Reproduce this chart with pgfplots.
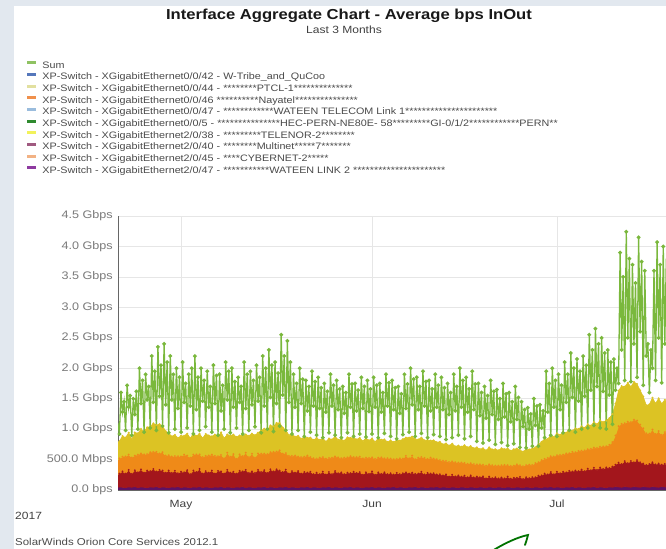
\documentclass[border=0pt]{standalone}
\usepackage{fontspec}
\setmainfont{Liberation Sans}[FakeStretch=1.15]
\usepackage{pgfplots}
\usepackage{pgfplotstable}
\pgfplotsset{compat=1.18}
\definecolor{bgout}{HTML}{E2E8EF}
\definecolor{gridgray}{HTML}{E6E6E6}
\definecolor{axisgray}{HTML}{666666}
\definecolor{tickgray}{HTML}{7A7A7A}
\definecolor{legtext}{HTML}{4A4A4A}
\definecolor{cpurple}{HTML}{5E1263}
\definecolor{cred}{HTML}{A3161C}
\definecolor{credl}{HTML}{C84848}
\definecolor{corange}{HTML}{EF8A18}
\definecolor{corangel}{HTML}{F8C27A}
\definecolor{cyellow}{HTML}{DCC324}
\definecolor{cyellowl}{HTML}{F6EFA8}
\definecolor{cgreen}{HTML}{7AB83C}
\definecolor{cgreend}{HTML}{4C9428}
\definecolor{lsum}{HTML}{8FC262}
\definecolor{lblue}{HTML}{5577BB}
\definecolor{lpaley}{HTML}{E2E0A0}
\definecolor{lorange}{HTML}{F0904C}
\definecolor{llblue}{HTML}{9ABCDD}
\definecolor{ldgreen}{HTML}{2F8A2F}
\definecolor{lyellow}{HTML}{F2F25A}
\definecolor{lmauve}{HTML}{A05A80}
\definecolor{llorange}{HTML}{F2B284}
\definecolor{lpurple}{HTML}{8E3AA0}

\pgfplotstableread[row sep=\\]{
x p r o yl \\
-10.5 0.04 0.20 0.22 0.30 \\
-10.0 0.05 0.22 0.25 0.28 \\
-9.5 0.045 0.26 0.24 0.34 \\
-9.0 0.04 0.23 0.28 0.31 \\
-8.5 0.05 0.28 0.25 0.36 \\
-8.0 0.045 0.22 0.27 0.30 \\
-7.5 0.055 0.27 0.24 0.38 \\
-7.0 0.04 0.25 0.29 0.35 \\
-6.5 0.05 0.29 0.26 0.40 \\
-6.0 0.045 0.24 0.30 0.37 \\
-5.5 0.04 0.28 0.27 0.44 \\
-5.0 0.05 0.26 0.31 0.42 \\
-4.5 0.045 0.30 0.28 0.47 \\
-4.0 0.055 0.25 0.32 0.44 \\
-3.5 0.04 0.29 0.27 0.48 \\
-3.0 0.05 0.27 0.30 0.43 \\
-2.5 0.045 0.24 0.28 0.40 \\
-2.0 0.04 0.28 0.25 0.36 \\
-1.5 0.05 0.23 0.27 0.33 \\
-1.0 0.045 0.27 0.24 0.35 \\
-0.5 0.055 0.22 0.28 0.30 \\
0.0 0.04 0.26 0.25 0.34 \\
0.5 0.05 0.24 0.29 0.31 \\
1.0 0.045 0.28 0.24 0.36 \\
1.5 0.04 0.22 0.27 0.32 \\
2.0 0.05 0.27 0.26 0.35 \\
2.5 0.045 0.25 0.29 0.30 \\
3.0 0.055 0.29 0.24 0.34 \\
3.5 0.04 0.23 0.27 0.31 \\
4.0 0.05 0.26 0.25 0.36 \\
4.5 0.045 0.24 0.28 0.33 \\
5.0 0.04 0.28 0.26 0.30 \\
5.5 0.05 0.22 0.29 0.35 \\
6.0 0.045 0.27 0.24 0.32 \\
6.5 0.055 0.25 0.27 0.37 \\
7.0 0.04 0.23 0.25 0.33 \\
7.5 0.05 0.28 0.28 0.30 \\
8.0 0.045 0.24 0.26 0.35 \\
8.5 0.04 0.26 0.29 0.32 \\
9.0 0.05 0.22 0.24 0.36 \\
9.5 0.045 0.27 0.27 0.31 \\
10.0 0.055 0.25 0.25 0.34 \\
10.5 0.04 0.29 0.28 0.30 \\
11.0 0.05 0.23 0.26 0.35 \\
11.5 0.045 0.26 0.29 0.33 \\
12.0 0.04 0.24 0.25 0.37 \\
12.5 0.05 0.28 0.27 0.34 \\
13.0 0.045 0.25 0.30 0.38 \\
13.5 0.055 0.27 0.27 0.41 \\
14.0 0.04 0.24 0.31 0.39 \\
14.5 0.05 0.29 0.28 0.44 \\
15.0 0.045 0.26 0.32 0.42 \\
15.5 0.04 0.30 0.29 0.47 \\
16.0 0.05 0.27 0.33 0.45 \\
16.5 0.045 0.25 0.30 0.43 \\
17.0 0.055 0.28 0.27 0.38 \\
17.5 0.04 0.23 0.29 0.34 \\
18.0 0.05 0.26 0.25 0.36 \\
18.5 0.045 0.24 0.28 0.31 \\
19.0 0.04 0.27 0.24 0.34 \\
19.5 0.05 0.22 0.27 0.30 \\
20.0 0.045 0.25 0.25 0.33 \\
20.5 0.055 0.23 0.28 0.29 \\
21.0 0.04 0.26 0.24 0.32 \\
21.5 0.05 0.21 0.26 0.30 \\
22.0 0.045 0.24 0.23 0.34 \\
22.5 0.04 0.22 0.27 0.29 \\
23.0 0.05 0.25 0.24 0.31 \\
23.5 0.045 0.21 0.26 0.28 \\
24.0 0.055 0.24 0.23 0.32 \\
24.5 0.04 0.22 0.27 0.30 \\
25.0 0.05 0.26 0.24 0.33 \\
25.5 0.045 0.23 0.26 0.29 \\
26.0 0.04 0.25 0.23 0.31 \\
26.5 0.05 0.21 0.27 0.28 \\
27.0 0.045 0.24 0.25 0.33 \\
27.5 0.055 0.22 0.28 0.30 \\
28.0 0.04 0.26 0.24 0.32 \\
28.5 0.05 0.23 0.26 0.29 \\
29.0 0.045 0.25 0.25 0.31 \\
29.5 0.04 0.21 0.27 0.28 \\
30.0 0.05 0.24 0.24 0.32 \\
30.5 0.045 0.22 0.26 0.29 \\
31.0 0.055 0.25 0.23 0.31 \\
31.5 0.04 0.21 0.26 0.28 \\
32.0 0.05 0.24 0.24 0.32 \\
32.5 0.045 0.22 0.27 0.29 \\
33.0 0.04 0.25 0.23 0.31 \\
33.5 0.05 0.21 0.26 0.27 \\
34.0 0.045 0.23 0.24 0.30 \\
34.5 0.055 0.20 0.25 0.28 \\
35.0 0.04 0.24 0.23 0.31 \\
35.5 0.05 0.21 0.26 0.29 \\
36.0 0.045 0.23 0.24 0.32 \\
36.5 0.04 0.25 0.27 0.30 \\
37.0 0.05 0.22 0.25 0.34 \\
37.5 0.045 0.24 0.28 0.31 \\
38.0 0.055 0.21 0.24 0.33 \\
38.5 0.04 0.23 0.26 0.30 \\
39.0 0.05 0.25 0.24 0.32 \\
39.5 0.045 0.21 0.27 0.29 \\
40.0 0.04 0.24 0.23 0.31 \\
40.5 0.05 0.22 0.26 0.28 \\
41.0 0.045 0.23 0.24 0.30 \\
41.5 0.055 0.20 0.25 0.28 \\
42.0 0.04 0.22 0.23 0.30 \\
42.5 0.05 0.19 0.24 0.27 \\
43.0 0.045 0.21 0.22 0.29 \\
43.5 0.04 0.18 0.24 0.27 \\
44.0 0.05 0.20 0.22 0.29 \\
44.5 0.045 0.18 0.23 0.26 \\
45.0 0.04 0.20 0.21 0.28 \\
45.5 0.05 0.17 0.23 0.26 \\
46.0 0.045 0.19 0.21 0.29 \\
46.5 0.04 0.17 0.22 0.27 \\
47.0 0.05 0.19 0.20 0.28 \\
47.5 0.045 0.16 0.22 0.26 \\
48.0 0.04 0.18 0.20 0.28 \\
48.5 0.05 0.16 0.21 0.25 \\
49.0 0.045 0.18 0.19 0.27 \\
49.5 0.04 0.15 0.21 0.25 \\
50.0 0.05 0.17 0.20 0.28 \\
50.5 0.045 0.15 0.21 0.26 \\
51.0 0.04 0.17 0.19 0.27 \\
51.5 0.05 0.14 0.21 0.25 \\
52.0 0.045 0.16 0.20 0.28 \\
52.5 0.04 0.15 0.22 0.26 \\
53.0 0.05 0.17 0.19 0.27 \\
53.5 0.045 0.14 0.21 0.25 \\
54.0 0.04 0.16 0.20 0.27 \\
54.5 0.05 0.15 0.22 0.26 \\
55.0 0.045 0.17 0.19 0.25 \\
55.5 0.04 0.14 0.21 0.24 \\
56.0 0.05 0.16 0.20 0.26 \\
56.5 0.045 0.15 0.22 0.25 \\
57.0 0.04 0.17 0.20 0.27 \\
57.5 0.05 0.16 0.23 0.26 \\
58.0 0.045 0.19 0.22 0.29 \\
58.5 0.04 0.20 0.25 0.30 \\
59.0 0.05 0.22 0.24 0.33 \\
59.5 0.045 0.21 0.27 0.31 \\
60.0 0.055 0.24 0.26 0.35 \\
60.5 0.04 0.22 0.29 0.32 \\
61.0 0.05 0.25 0.27 0.36 \\
61.5 0.045 0.23 0.30 0.33 \\
62.0 0.04 0.26 0.28 0.37 \\
62.5 0.05 0.24 0.31 0.34 \\
63.0 0.045 0.27 0.29 0.38 \\
63.5 0.055 0.25 0.32 0.35 \\
64.0 0.04 0.28 0.30 0.39 \\
64.5 0.05 0.26 0.33 0.36 \\
65.0 0.045 0.29 0.31 0.40 \\
65.5 0.04 0.27 0.34 0.37 \\
66.0 0.05 0.30 0.32 0.41 \\
66.5 0.045 0.28 0.35 0.38 \\
67.0 0.055 0.31 0.33 0.42 \\
67.5 0.04 0.29 0.36 0.39 \\
68.0 0.05 0.32 0.34 0.43 \\
68.5 0.045 0.30 0.37 0.40 \\
69.0 0.04 0.33 0.35 0.42 \\
69.5 0.05 0.31 0.38 0.44 \\
70.0 0.045 0.34 0.40 0.46 \\
70.5 0.055 0.36 0.48 0.52 \\
71.0 0.05 0.40 0.60 0.58 \\
71.5 0.045 0.38 0.66 0.62 \\
72.0 0.055 0.42 0.62 0.60 \\
72.5 0.05 0.39 0.68 0.64 \\
73.0 0.045 0.43 0.64 0.58 \\
73.5 0.055 0.40 0.70 0.62 \\
74.0 0.05 0.44 0.65 0.60 \\
74.5 0.045 0.41 0.62 0.56 \\
75.0 0.055 0.38 0.58 0.52 \\
75.5 0.05 0.36 0.52 0.46 \\
76.0 0.045 0.38 0.50 0.48 \\
76.5 0.055 0.40 0.54 0.52 \\
77.0 0.05 0.37 0.50 0.50 \\
77.5 0.045 0.39 0.53 0.54 \\
78.0 0.055 0.36 0.49 0.51 \\
78.5 0.05 0.38 0.52 0.53 \\
79.0 0.045 0.37 0.50 0.50 \\
}\layers

\begin{document}
\begin{tikzpicture}[x=1bp,y=1bp]
\useasboundingbox (0,0) rectangle (666,549);
\fill[bgout] (0,0) rectangle (666,549);
\fill[white] (14,0) rectangle (666,543);
\node[font=\bfseries\fontsize{14.5}{16}\selectfont, text=black!90] at (349,533) {Interface Aggregate Chart - Average bps InOut};
\node[font=\fontsize{10.5}{12}\selectfont, text=black!75] at (344,519) {Last 3 Months};
\begin{axis}[
  at={(118bp,59bp)}, anchor=south west,
  scale only axis, width=548bp, height=274bp,
  xmin=-10.23, xmax=78.7, ymin=0, ymax=4.5,
  axis x line*=bottom, axis y line*=left,
  axis line style={draw=axisgray, line width=0.9bp},
  xtick={0,31,61}, xticklabels={May,Jun,Jul},
  ytick={0,0.5,1,1.5,2,2.5,3,3.5,4,4.5},
  yticklabels={0.0 bps,500.0 Mbps,1.0 Gbps,1.5 Gbps,2.0 Gbps,2.5 Gbps,3.0 Gbps,3.5 Gbps,4.0 Gbps,4.5 Gbps},
  grid=major, major grid style={draw=gridgray, line width=0.7bp},
  major tick length=0pt,
  yticklabel style={font=\fontsize{11}{12}\selectfont, text=tickgray, inner sep=0pt, xshift=-5bp},
  xticklabel style={font=\fontsize{10.5}{12}\selectfont, text=black!75, inner sep=0pt, yshift=-10bp},
  legend cell align=left,
  legend image code/.code={\draw[#1, line width=3bp] (0bp,3bp) -- (9bp,3bp);},
  legend style={at={(-0.1679,1.5693)}, anchor=north west, draw=none, fill=none,
    inner sep=0pt, outer sep=0pt, row sep=0pt,
    font=\fontsize{9.4}{10}\selectfont, text=legtext,
    nodes={inner sep=0pt, outer sep=0pt, text height=8bp, text depth=3.67bp},
    /tikz/every odd column/.style={column sep=4.5bp}},
]
\addplot[stack plots=y, fill=cpurple, draw=cpurple, line width=0.6bp, forget plot] table[x=x,y=p]{\layers} \closedcycle;
\addplot[stack plots=y, fill=cred, draw=cred, line width=0.6bp, forget plot,
  mark=*, mark size=0.6bp, mark options={fill=credl, draw=none}] table[x=x,y=r]{\layers} \closedcycle;
\addplot[stack plots=y, fill=corange, draw=corange, line width=0.6bp, forget plot,
  mark=*, mark size=0.7bp, mark options={fill=corangel, draw=none}] table[x=x,y=o]{\layers} \closedcycle;
\addplot[stack plots=y, fill=cyellow, draw=cyellow, line width=0.6bp, forget plot,
  mark=*, mark size=0.7bp, mark options={fill=cyellowl, draw=none}] table[x=x,y=yl]{\layers} \closedcycle;
\addplot[draw=cgreen, line width=1.3bp, forget plot, mark=*, mark size=1.2bp,
  mark options={fill=cgreend, draw=none}] coordinates {
(-10.25,1.10)
(-10,0.92)(-9.75,1.60)(-9.5,1.28)(-9.25,1.45)
(-9,0.98)(-8.75,1.72)(-8.5,1.36)(-8.25,1.55)
(-8,0.90)(-7.75,1.50)(-7.5,1.24)(-7.25,1.62)
(-7,1.00)(-6.75,2.00)(-6.5,1.42)(-6.25,1.80)
(-6,0.95)(-5.75,1.90)(-5.5,1.48)(-5.25,1.70)
(-5,1.02)(-4.75,2.20)(-4.5,1.44)(-4.25,1.95)
(-4,0.98)(-3.75,2.35)(-3.5,1.54)(-3.25,2.05)
(-3,1.05)(-2.75,2.40)(-2.5,1.40)(-2.25,2.10)
(-2,0.94)(-1.75,2.20)(-1.5,1.48)(-1.25,1.90)
(-1,1.00)(-0.75,2.00)(-0.5,1.34)(-0.25,1.85)
(0,0.95)(0.25,2.10)(0.5,1.44)(0.75,1.75)
(1,1.02)(1.25,1.90)(1.5,1.38)(1.75,2.00)
(2,0.92)(2.25,2.20)(2.5,1.32)(2.75,1.85)
(3,0.98)(3.25,2.00)(3.5,1.46)(3.75,1.80)
(4,1.04)(4.25,1.95)(4.5,1.36)(4.75,1.70)
(5,0.95)(5.25,2.05)(5.5,1.42)(5.75,1.88)
(6,0.90)(6.25,1.90)(6.5,1.30)(6.75,1.72)
(7,1.00)(7.25,2.10)(7.5,1.48)(7.75,1.95)
(8,0.94)(8.25,2.00)(8.5,1.36)(8.75,1.78)
(9,1.02)(9.25,1.85)(9.5,1.44)(9.75,1.70)
(10,0.92)(10.25,2.10)(10.5,1.34)(10.75,1.90)
(11,0.98)(11.25,1.95)(11.5,1.40)(11.75,1.80)
(12,1.04)(12.25,2.05)(12.5,1.46)(12.75,1.85)
(13,0.94)(13.25,2.20)(13.5,1.38)(13.75,2.00)
(14,1.00)(14.25,2.30)(14.5,1.52)(14.75,2.05)
(15,0.96)(15.25,2.10)(15.5,1.42)(15.75,1.92)
(16,1.05)(16.25,2.55)(16.5,1.56)(16.75,2.20)
(17,0.98)(17.25,2.45)(17.5,1.44)(17.75,2.10)
(18,0.92)(18.25,1.90)(18.5,1.36)(18.75,1.75)
(19,0.98)(19.25,2.00)(19.5,1.42)(19.75,1.82)
(20,0.88)(20.25,1.80)(20.5,1.30)(20.75,1.70)
(21,0.95)(21.25,1.95)(21.5,1.38)(21.75,1.78)
(22,0.90)(22.25,1.85)(22.5,1.34)(22.75,1.68)
(23,0.86)(23.25,1.75)(23.5,1.28)(23.75,1.62)
(24,0.94)(24.25,1.90)(24.5,1.38)(24.75,1.72)
(25,0.90)(25.25,1.80)(25.5,1.32)(25.75,1.66)
(26,0.86)(26.25,1.70)(26.5,1.26)(26.75,1.60)
(27,0.94)(27.25,1.90)(27.5,1.36)(27.75,1.74)
(28,0.88)(28.25,1.75)(28.5,1.30)(28.75,1.64)
(29,0.92)(29.25,1.85)(29.5,1.34)(29.75,1.70)
(30,0.87)(30.25,1.80)(30.5,1.29)(30.75,1.66)
(31,0.92)(31.25,1.85)(31.5,1.36)(31.75,1.72)
(32,0.86)(32.25,1.75)(32.5,1.28)(32.75,1.60)
(33,0.93)(33.25,1.90)(33.5,1.38)(33.75,1.76)
(34,0.88)(34.25,1.80)(34.5,1.32)(34.75,1.68)
(35,0.84)(35.25,1.70)(35.5,1.26)(35.75,1.58)
(36,0.91)(36.25,1.90)(36.5,1.34)(36.75,1.74)
(37,0.95)(37.25,2.00)(37.5,1.40)(37.75,1.82)
(38,0.88)(38.25,1.85)(38.5,1.32)(38.75,1.70)
(39,0.93)(39.25,1.95)(39.5,1.38)(39.75,1.78)
(40,0.86)(40.25,1.80)(40.5,1.30)(40.75,1.66)
(41,0.91)(41.25,1.90)(41.5,1.36)(41.75,1.72)
(42,0.88)(42.25,1.85)(42.5,1.32)(42.75,1.68)
(43,0.83)(43.25,1.75)(43.5,1.24)(43.75,1.60)
(44,0.86)(44.25,1.90)(44.5,1.30)(44.75,1.70)
(45,0.90)(45.25,2.00)(45.5,1.36)(45.75,1.80)
(46,0.84)(46.25,1.85)(46.5,1.28)(46.75,1.66)
(47,0.88)(47.25,1.95)(47.5,1.32)(47.75,1.74)
(48,0.80)(48.25,1.75)(48.5,1.22)(48.75,1.60)
(49,0.77)(49.25,1.70)(49.5,1.18)(49.75,1.55)
(50,0.82)(50.25,1.80)(50.5,1.24)(50.75,1.62)
(51,0.75)(51.25,1.65)(51.5,1.16)(51.75,1.50)
(52,0.78)(52.25,1.75)(52.5,1.20)(52.75,1.58)
(53,0.73)(53.25,1.60)(53.5,1.12)(53.75,1.45)
(54,0.76)(54.25,1.70)(54.5,1.16)(54.75,1.52)
(55,0.70)(55.25,1.45)(55.5,1.04)(55.75,1.32)
(56,0.69)(56.25,1.35)(56.5,1.00)(56.75,1.25)
(57,0.72)(57.25,1.50)(57.5,1.06)(57.75,1.38)
(58,0.72)(58.25,1.40)(58.5,1.02)(58.75,1.30)
(59,0.86)(59.25,1.95)(59.5,1.28)(59.75,1.75)
(60,0.90)(60.25,2.00)(60.5,1.36)(60.75,1.80)
(61,0.88)(61.25,1.90)(61.5,1.32)(61.75,1.72)
(62,0.94)(62.25,2.10)(62.5,1.44)(62.75,1.90)
(63,0.98)(63.25,2.25)(63.5,1.52)(63.75,2.00)
(64,0.95)(64.25,2.15)(64.5,1.46)(64.75,1.95)
(65,1.00)(65.25,2.20)(65.5,1.54)(65.75,2.05)
(66,1.02)(66.25,2.55)(66.5,1.64)(66.75,2.30)
(67,1.06)(67.25,2.65)(67.5,1.70)(67.75,2.40)
(68,1.02)(68.25,2.50)(68.5,1.62)(68.75,2.25)
(69,1.00)(69.25,2.30)(69.5,1.56)(69.75,2.10)
(70,1.08)(70.25,2.15)(70.5,1.64)(70.75,2.00)
(71,1.75)(71.25,3.90)(71.5,2.30)(71.75,3.50)
(72,1.80)(72.25,4.24)(72.5,2.50)(72.75,3.80)
(73,1.78)(73.25,3.70)(73.5,2.40)(73.75,3.40)
(74,1.85)(74.25,4.15)(74.5,2.60)(74.75,3.75)
(75,1.72)(75.25,3.60)(75.5,2.20)(75.75,2.40)
(76,1.60)(76.25,2.30)(76.5,2.00)(76.75,3.60)
(77,1.80)(77.25,4.07)(77.5,2.50)(77.75,3.70)
(78,1.76)(78.25,4.00)(78.5,2.40)(78.75,3.80)
(79,1.80)
};
\addlegendimage{draw=lsum}\addlegendentry{Sum}
\addlegendimage{draw=lblue}\addlegendentry{XP-Switch - XGigabitEthernet0/0/42 - W-Tribe\_and\_QuCoo}
\addlegendimage{draw=lpaley}\addlegendentry{XP-Switch - XGigabitEthernet0/0/44 - ********PTCL-1**************}
\addlegendimage{draw=lorange}\addlegendentry{XP-Switch - XGigabitEthernet0/0/46 **********Nayatel***************}
\addlegendimage{draw=llblue}\addlegendentry{XP-Switch - XGigabitEthernet0/0/47 - ************WATEEN TELECOM Link 1**********************}
\addlegendimage{draw=ldgreen}\addlegendentry{XP-Switch - XGigabitEthernet0/0/5 - ***************HEC-PERN-NE80E- 58*********GI-0/1/2************PERN**}
\addlegendimage{draw=lyellow}\addlegendentry{XP-Switch - XGigabitEthernet2/0/38 - *********TELENOR-2********}
\addlegendimage{draw=lmauve}\addlegendentry{XP-Switch - XGigabitEthernet2/0/40 - ********Multinet*****7*******}
\addlegendimage{draw=llorange}\addlegendentry{XP-Switch - XGigabitEthernet2/0/45 - ****CYBERNET-2*****}
\addlegendimage{draw=lpurple}\addlegendentry{XP-Switch - XGigabitEthernet2/0/47 - ***********WATEEN LINK 2 **********************}
\end{axis}
\node[anchor=west, font=\fontsize{10.5}{12}\selectfont, text=black!75, inner sep=0pt] at (15,33) {2017};
\node[anchor=west, font=\fontsize{10}{12}\selectfont, text=black!70, inner sep=0pt] at (15,7) {SolarWinds Orion Core Services 2012.1};
\draw[draw=green!45!black, line width=1.8bp, line cap=round] (492,-2) .. controls (505,6) and (518,12) .. (528,14) .. controls (527,10) and (526,7) .. (525,4);
\end{tikzpicture}
\end{document}
